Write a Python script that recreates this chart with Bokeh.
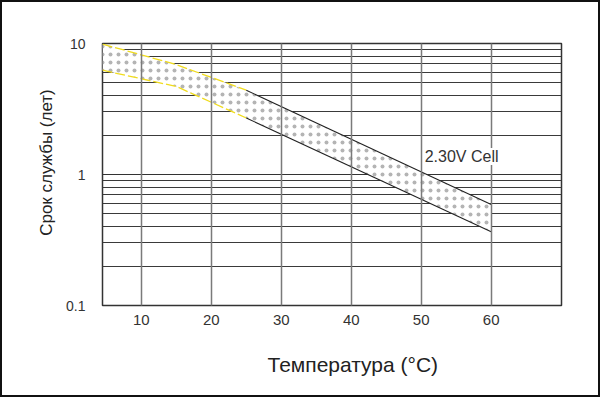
from bokeh.plotting import figure
from bokeh.models import Range1d, FixedTicker, CustomJSTickFormatter, Label, Title
from bokeh.embed import file_html
from bokeh.resources import INLINE

# ---- data ----
temps = [4.45, 15, 25, 60]               # °C
life_upper = [9.9, 6.9, 4.4, 0.59]       # years, upper bound
life_lower = [6.25, 4.7, 2.7, 0.365]     # years, lower bound
x_ticks = [10, 20, 30, 40, 50, 60]
y_ticks = [0.1, 1, 10]
y_minor = [0.2, 0.3, 0.4, 0.5, 0.6, 0.7, 0.8, 0.9, 2, 3, 4, 5, 6, 7, 8, 9]
series_label = "2.30V Cell"
x_title = "Температура (°C)"
y_title = "Срок службы  (лет)"

FONT = "Liberation Sans"
TXT = "#333333"

p = figure(width=600, height=397, y_axis_type="log",
           x_range=Range1d(4.45, 70.05), y_range=Range1d(0.1, 10),
           output_backend="svg", toolbar_location=None,
           min_border_left=100, min_border_right=41,
           min_border_top=41, min_border_bottom=94,
           background_fill_color="white", border_fill_color="white")
p.styles = {"border": "2px solid #111111"}

p.outline_line_color = "#333333"
p.outline_line_width = 1.5

# axes
p.xaxis.ticker = FixedTicker(ticks=x_ticks)
p.yaxis.ticker = FixedTicker(ticks=y_ticks, minor_ticks=y_minor)
p.yaxis.formatter = CustomJSTickFormatter(code="return String(tick);")
for ax in (p.xaxis[0], p.yaxis[0]):
    ax.axis_line_color = None
    ax.major_tick_line_color = None
    ax.minor_tick_line_color = None
    ax.major_label_text_font = FONT
    ax.major_label_text_color = TXT
p.xaxis.major_label_text_font_size = "15px"
p.xaxis.major_label_standoff = 3
p.yaxis.major_label_text_font_size = "14px"
p.yaxis.major_label_standoff = 11

# grids
p.xgrid.grid_line_color = "#7a7a7a"
p.xgrid.grid_line_width = 1.5
p.xgrid.level = "guide"
p.ygrid.grid_line_color = "#333333"
p.ygrid.grid_line_width = 1.2
p.ygrid.minor_grid_line_color = "#3a3a3a"
p.ygrid.minor_grid_line_width = 1.0

# band with light dotted texture
p.varea(x=temps, y1=life_lower, y2=life_upper, fill_color="white",
        hatch_pattern="dot", hatch_scale=8, hatch_color="#b4b4b4", hatch_weight=1)

# boundaries: yellow dashed at low temperatures, black above 25 °C
p.line(temps[:3], life_upper[:3], line_color="#f0dc1e", line_width=1.3, line_dash="10 3")
p.line(temps[:3], life_lower[:3], line_color="#f0dc1e", line_width=1.3, line_dash="10 3")
p.line(temps[2:], life_upper[2:], line_color="#222222", line_width=1.1)
p.line(temps[2:], life_lower[2:], line_color="#222222", line_width=1.1)

p.add_layout(Label(x=50.5, y=1.375, text=series_label, text_font=FONT,
                   text_font_size="16px", text_color=TXT, text_baseline="middle",
                   background_fill_color="white"))

# axis titles
p.add_layout(Title(text=x_title, align="left", offset=165, standoff=47,
                   text_font=FONT, text_font_size="21px", text_font_style="normal",
                   text_color="#222222"), "below")
p.add_layout(Title(text=y_title, align="right", offset=41, standoff=16,
                   text_font=FONT, text_font_size="17px", text_font_style="normal",
                   text_color="#222222"), "left")

open("out.html", "w").write(file_html(p, INLINE))
